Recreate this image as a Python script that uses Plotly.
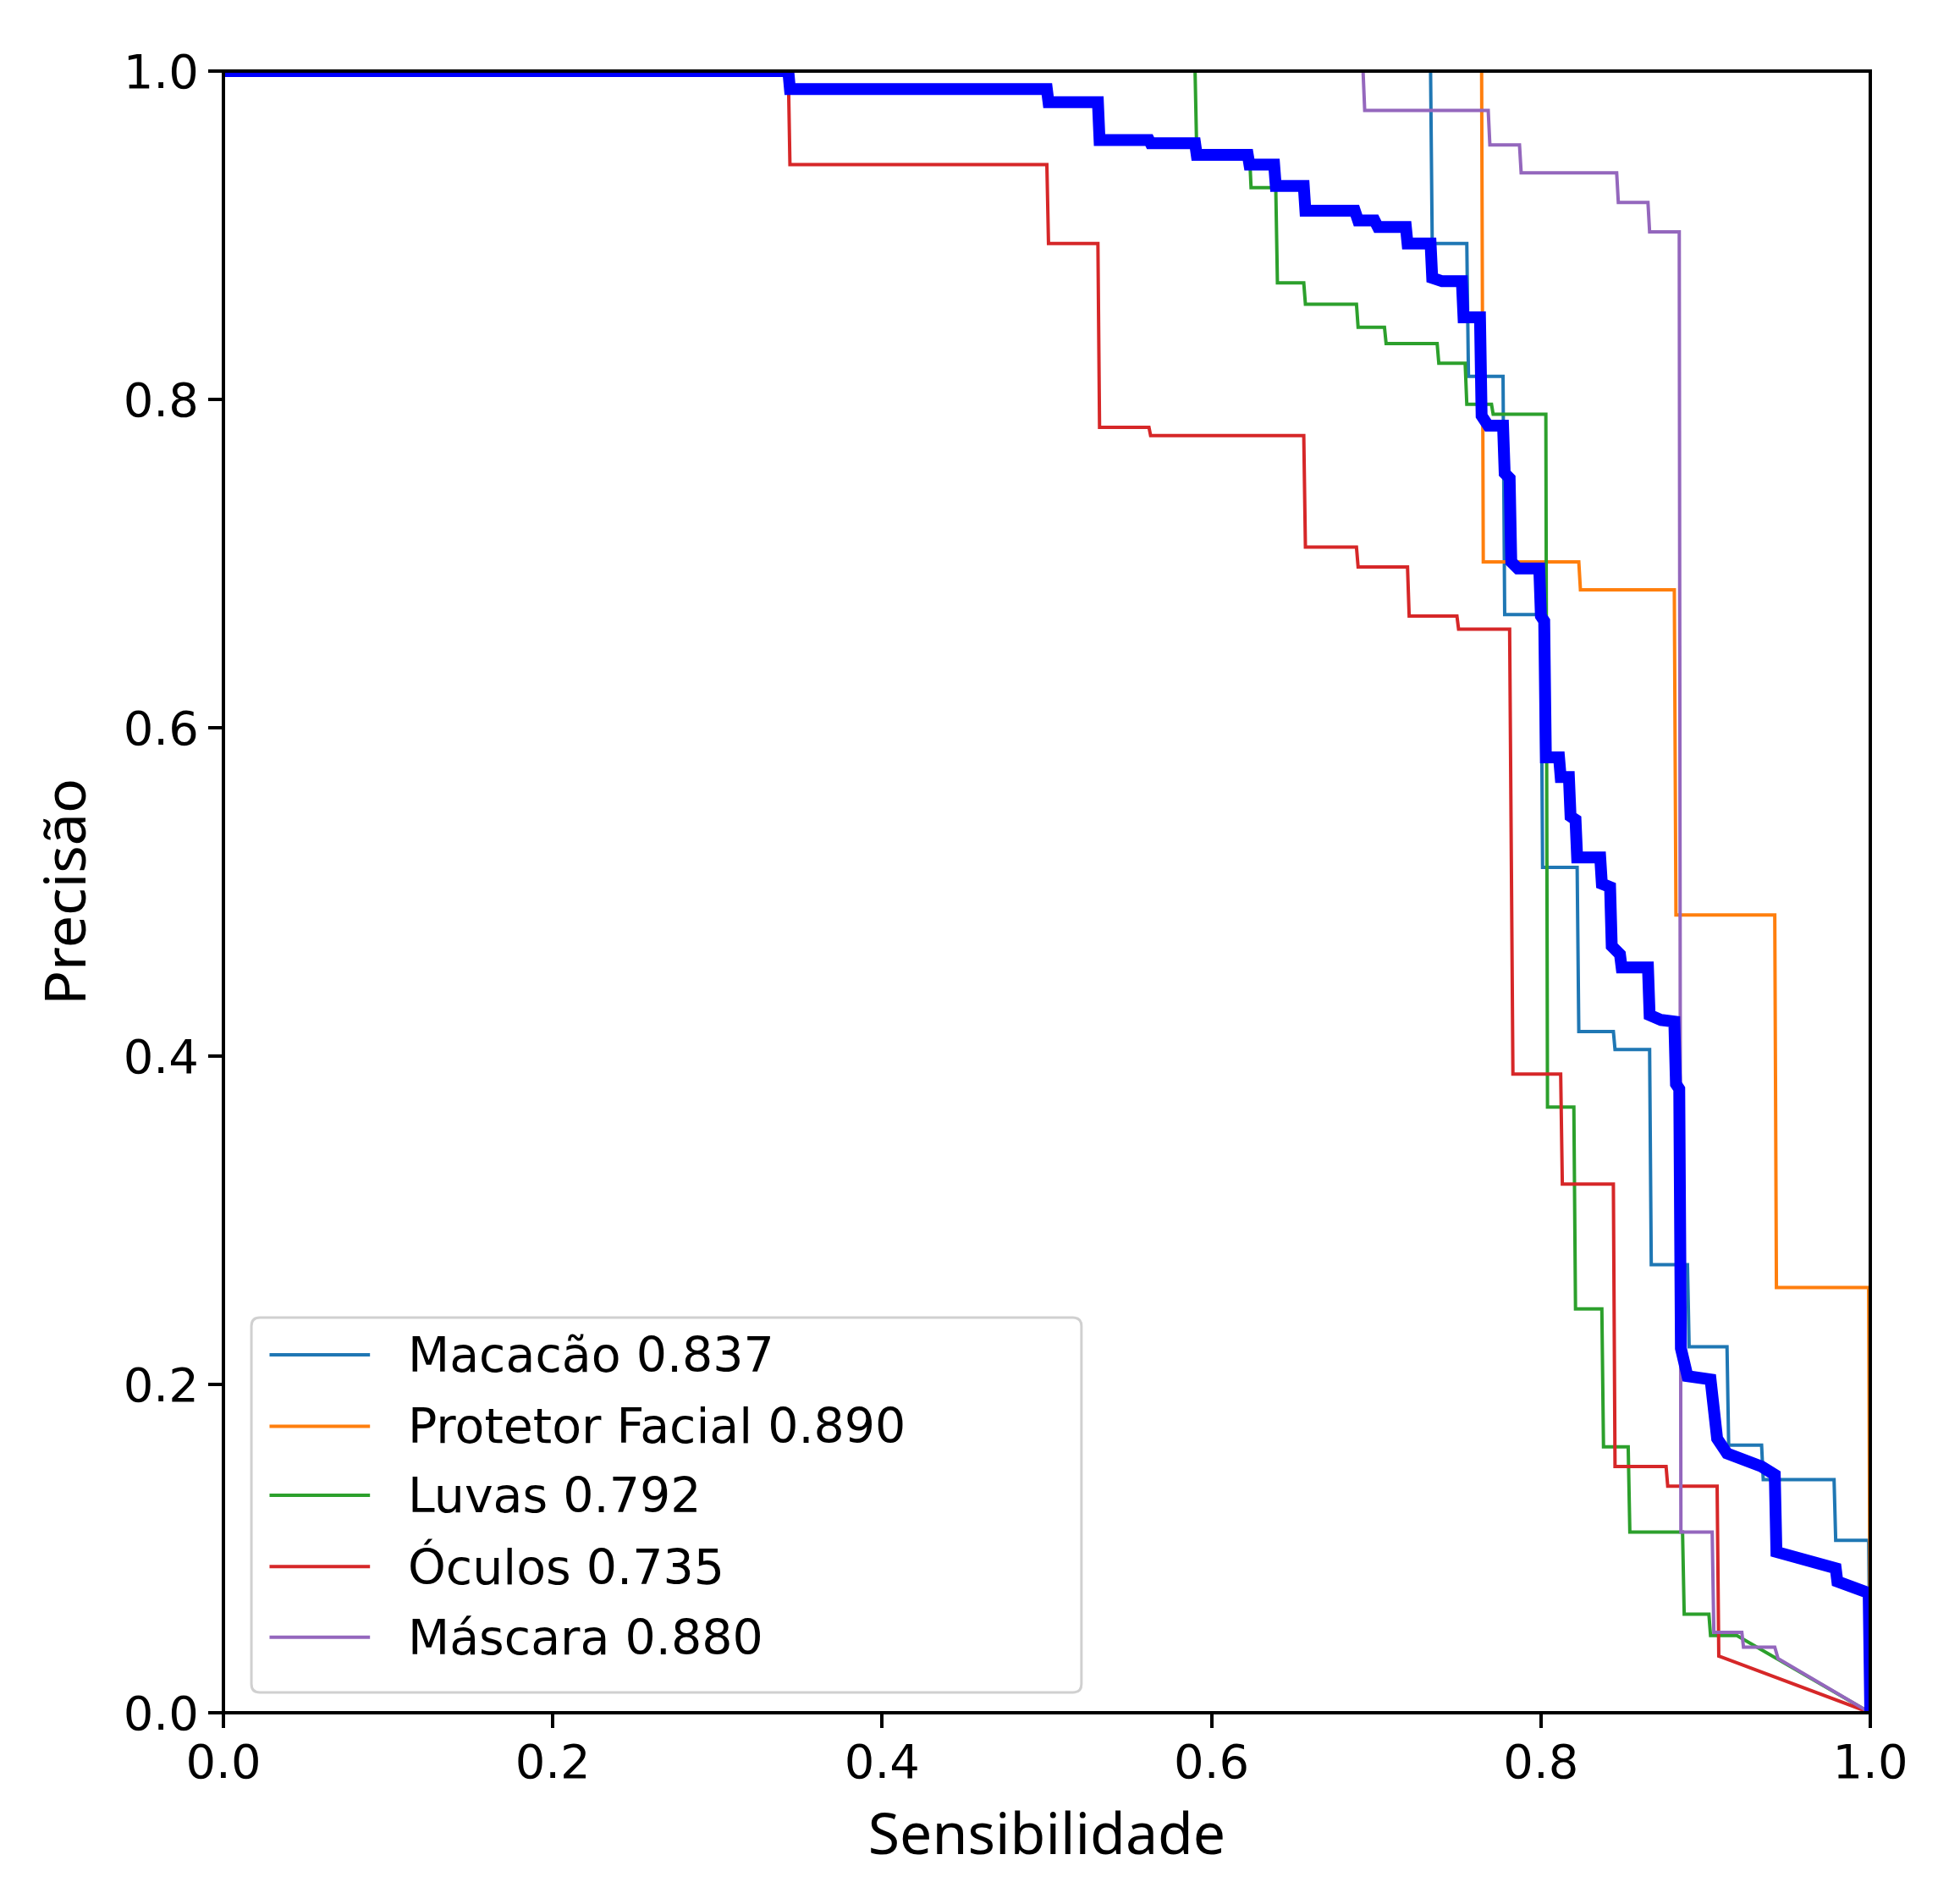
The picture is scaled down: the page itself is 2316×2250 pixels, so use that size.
import plotly.graph_objects as go

# ---------------- data ----------------
names = ["Macacão", "Protetor Facial", "Luvas", "Óculos", "Máscara"]
ap_values = [0.837, 0.890, 0.792, 0.735, 0.880]
colors = ["#1f77b4", "#ff7f0e", "#2ca02c", "#d62728", "#9467bd"]

macacao_recall = [0, 0.733, 0.734, 0.755, 0.756, 0.777, 0.778, 0.800, 0.801, 0.822, 0.823,
                  0.844, 0.845, 0.866, 0.867, 0.889, 0.890, 0.913, 0.914, 0.934, 0.935,
                  0.978, 0.979, 0.999, 1.0]
macacao_precision = [1.0, 1.0, 0.895, 0.895, 0.814, 0.814, 0.669, 0.669, 0.515, 0.515, 0.415,
                     0.415, 0.404, 0.404, 0.273, 0.273, 0.223, 0.223, 0.163, 0.163, 0.142,
                     0.142, 0.105, 0.105, 0.0]

protetor_recall = [0, 0.764, 0.765, 0.823, 0.824, 0.881, 0.882, 0.942, 0.943, 0.999, 1.0]
protetor_precision = [1.0, 1.0, 0.701, 0.701, 0.684, 0.684, 0.486, 0.486, 0.259, 0.259, 0.0]

luvas_recall = [0, 0.590, 0.591, 0.623, 0.624, 0.639, 0.640, 0.656, 0.657, 0.688, 0.689,
                0.705, 0.706, 0.737, 0.738, 0.754, 0.755, 0.770, 0.771, 0.803, 0.804,
                0.820, 0.821, 0.837, 0.838, 0.853, 0.854, 0.886, 0.887, 0.902, 0.903,
                0.919, 1.0]
luvas_precision = [1.0, 1.0, 0.951, 0.951, 0.929, 0.929, 0.871, 0.871, 0.858, 0.858, 0.844,
                   0.844, 0.834, 0.834, 0.822, 0.822, 0.797, 0.797, 0.791, 0.791, 0.369,
                   0.369, 0.246, 0.246, 0.162, 0.162, 0.110, 0.110, 0.060, 0.060, 0.047,
                   0.047, 0.0]

oculos_recall = [0, 0.343, 0.344, 0.500, 0.501, 0.531, 0.532, 0.562, 0.563, 0.656, 0.657,
                 0.688, 0.689, 0.719, 0.720, 0.749, 0.750, 0.781, 0.783, 0.812, 0.813,
                 0.844, 0.845, 0.876, 0.877, 0.907, 0.908, 1.0]
oculos_precision = [1.0, 1.0, 0.943, 0.943, 0.895, 0.895, 0.783, 0.783, 0.778, 0.778, 0.710,
                    0.710, 0.698, 0.698, 0.668, 0.668, 0.660, 0.660, 0.389, 0.389, 0.322,
                    0.322, 0.150, 0.150, 0.138, 0.138, 0.0345, 0.0]

mascara_recall = [0, 0.692, 0.693, 0.768, 0.769, 0.787, 0.788, 0.846, 0.847, 0.865, 0.866,
                  0.884, 0.885, 0.904, 0.905, 0.922, 0.923, 0.942, 0.944, 1.0]
mascara_precision = [1.0, 1.0, 0.976, 0.976, 0.955, 0.955, 0.938, 0.938, 0.920, 0.920, 0.902,
                     0.902, 0.110, 0.110, 0.049, 0.049, 0.040, 0.040, 0.033, 0.0]

todas_recall = [0, 0.343, 0.344, 0.500, 0.501, 0.531, 0.532, 0.562, 0.563, 0.590, 0.591,
                0.622, 0.623, 0.638, 0.639, 0.656, 0.657, 0.687, 0.689, 0.699, 0.701,
                0.718, 0.719, 0.733, 0.734, 0.740, 0.752, 0.753, 0.763, 0.764, 0.768,
                0.777, 0.778, 0.781, 0.782, 0.786, 0.799, 0.800, 0.802, 0.803, 0.811,
                0.812, 0.817, 0.818, 0.821, 0.822, 0.836, 0.837, 0.842, 0.843, 0.848,
                0.849, 0.865, 0.866, 0.873, 0.881, 0.882, 0.884, 0.885, 0.889, 0.903,
                0.904, 0.906, 0.907, 0.913, 0.934, 0.942, 0.943, 0.979, 0.980, 0.999, 1.0]
todas_precision = [1.0, 1.0, 0.989, 0.989, 0.981, 0.981, 0.958, 0.958, 0.956, 0.956, 0.949,
                   0.949, 0.943, 0.943, 0.930, 0.930, 0.915, 0.915, 0.909, 0.909, 0.905,
                   0.905, 0.895, 0.895, 0.874, 0.872, 0.872, 0.850, 0.850, 0.790, 0.784,
                   0.784, 0.755, 0.752, 0.701, 0.697, 0.697, 0.668, 0.665, 0.582, 0.582,
                   0.570, 0.570, 0.546, 0.544, 0.521, 0.521, 0.505, 0.503, 0.467, 0.462,
                   0.454, 0.454, 0.425, 0.422, 0.421, 0.383, 0.380, 0.222, 0.205, 0.203,
                   0.191, 0.185, 0.167, 0.158, 0.150, 0.145, 0.098, 0.088, 0.080, 0.073, 0.0]

tick_values = [0.0, 0.2, 0.4, 0.6, 0.8, 1.0]
tick_labels = ["0.0", "0.2", "0.4", "0.6", "0.8", "1.0"]

series = [
    (macacao_recall, macacao_precision),
    (protetor_recall, protetor_precision),
    (luvas_recall, luvas_precision),
    (oculos_recall, oculos_precision),
    (mascara_recall, mascara_precision),
]

# ---------------- figure ----------------
fig = go.Figure()
for (rx, py), name, ap, col in zip(series, names, ap_values, colors):
    fig.add_trace(go.Scatter(x=rx, y=py, mode="lines", name=f"{name} {ap:.3f}",
                             line=dict(color=col, width=4), showlegend=False,
                             hoverinfo="skip"))
fig.add_trace(go.Scatter(x=todas_recall, y=todas_precision, mode="lines", name="todas",
                         line=dict(color="#0000ff", width=14), showlegend=False,
                         hoverinfo="skip"))

# axes frame centred on the plot edges (matplotlib-like spines)
shapes = [dict(type="rect", xref="paper", yref="paper", x0=0, x1=1, y0=0, y1=1,
               line=dict(color="black", width=4), fillcolor="rgba(0,0,0,0)", layer="above")]

# custom matplotlib-like legend
lx0, lx1, ly0, ly1 = 0.017, 0.521, 0.0124, 0.2407
rx_, ry_ = 10 / 1946, 10 / 1940
path = (f"M {lx0+rx_},{ly0} L {lx1-rx_},{ly0} Q {lx1},{ly0} {lx1},{ly0+ry_} "
        f"L {lx1},{ly1-ry_} Q {lx1},{ly1} {lx1-rx_},{ly1} L {lx0+rx_},{ly1} "
        f"Q {lx0},{ly1} {lx0},{ly1-ry_} L {lx0},{ly0+ry_} Q {lx0},{ly0} {lx0+rx_},{ly0} Z")
shapes.append(dict(type="path", path=path, xref="paper", yref="paper",
                   line=dict(color="#d0d0d0", width=3), fillcolor="rgba(255,255,255,0.8)",
                   layer="above"))
annotations = []
row_y = [0.218, 0.1745, 0.1325, 0.089, 0.046]
for yy, name, ap, col in zip(row_y, names, ap_values, colors):
    shapes.append(dict(type="line", xref="paper", yref="paper", x0=0.028, x1=0.089,
                       y0=yy, y1=yy, line=dict(color=col, width=4), layer="above"))
    annotations.append(dict(text=f"{name} {ap:.3f}", xref="paper", yref="paper",
                            x=0.111, y=yy, xanchor="left", yanchor="middle",
                            showarrow=False,
                            font=dict(family="DejaVu Sans", size=57, color="black")))

axis_common = dict(range=[0, 1], tickvals=tick_values, ticktext=tick_labels,
                   ticks="outside", ticklen=17, tickwidth=4, tickcolor="black",
                   showline=False, showgrid=False, zeroline=False,
                   tickfont=dict(family="DejaVu Sans", size=56, color="black"))

fig.update_layout(
    width=2316, height=2250,
    margin=dict(l=264, r=106, t=84, b=226, pad=0),
    paper_bgcolor="white", plot_bgcolor="white",
    showlegend=False,
    shapes=shapes, annotations=annotations,
    xaxis=dict(**axis_common, ticklabelstandoff=-8,
               title=dict(text="Sensibilidade", standoff=30,
                          font=dict(family="Noto Sans", size=68, color="black"))),
    yaxis=dict(**axis_common,
               title=dict(text="Precisão", standoff=21,
                          font=dict(family="Noto Sans", size=68, color="black"))),
)

fig.write_html("out.html")
